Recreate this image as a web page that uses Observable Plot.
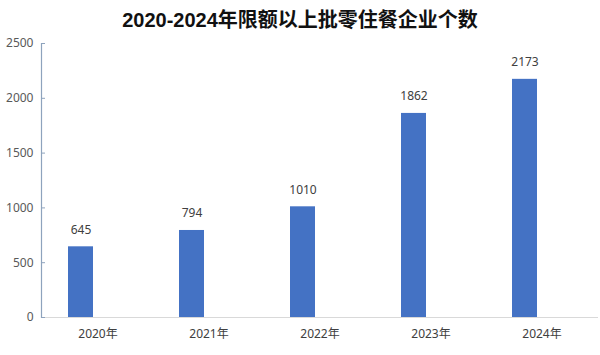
<!DOCTYPE html>
<html>
<head>
<meta charset="utf-8">
<script src="https://cdn.jsdelivr.net/npm/d3@7"></script>
<script src="https://cdn.jsdelivr.net/npm/@observablehq/plot@0.6"></script>
<style>
  html, body { margin: 0; padding: 0; background: #fff; }
  #title {
    width: 600px; height: 34px; box-sizing: border-box; padding-top: 6px;
    line-height: 28px; text-align: center; font-weight: bold; font-size: 20px;
    font-family: "Liberation Sans", "Noto Sans CJK SC", sans-serif; color: #111;
  }
  #chart svg { display: block; }
</style>
</head>
<body>
<div id="title">2020-2024年限额以上批零住餐企业个数</div>
<div id="chart"></div>
<script>
const years = ["2020年", "2021年", "2022年", "2023年", "2024年"];
const counts = [645, 794, 1010, 1862, 2173];
const yTicks = [0, 500, 1000, 1500, 2000, 2500];

const data = years.map((y, i) => ({year: y, count: counts[i]}));
const font = '"Noto Sans", "Noto Sans CJK SC", sans-serif';

const chart = Plot.plot({
  width: 600,
  height: 321,
  marginTop: 9,
  marginBottom: 38,
  marginLeft: 41,
  marginRight: 2,
  style: {fontFamily: font, fontSize: "12px", background: "#fff"},
  x: {domain: years, padding: 0, label: null},
  y: {domain: [0, 2500], label: null},
  marks: [
    Plot.ruleY([0], {stroke: "#d9d9d9", strokeWidth: 1.2}),
    Plot.barY(data, {x: "year", y: "count", fill: "#4472C4", insetLeft: 26, insetRight: 60}),
    Plot.text(data, {x: "year", y: "count", text: d => String(d.count), dx: -17, dy: -17, fill: "#404040", fontSize: 12}),
    Plot.frame({anchor: "left", stroke: "#8ea3bd", strokeWidth: 1.2}),
    Plot.axisY({ticks: yTicks, tickSize: -4, text: null, stroke: "#8ea3bd"}),
    Plot.axisY({ticks: yTicks, tickSize: 0, tickPadding: 8, tickFormat: d => String(d), fill: "#595959", fontSize: 12}),
    Plot.axisX({tickSize: 0, tickPadding: 12, fill: "#404040", fontSize: 12})
  ]
});
document.getElementById("chart").appendChild(chart);
</script>
</body>
</html>
